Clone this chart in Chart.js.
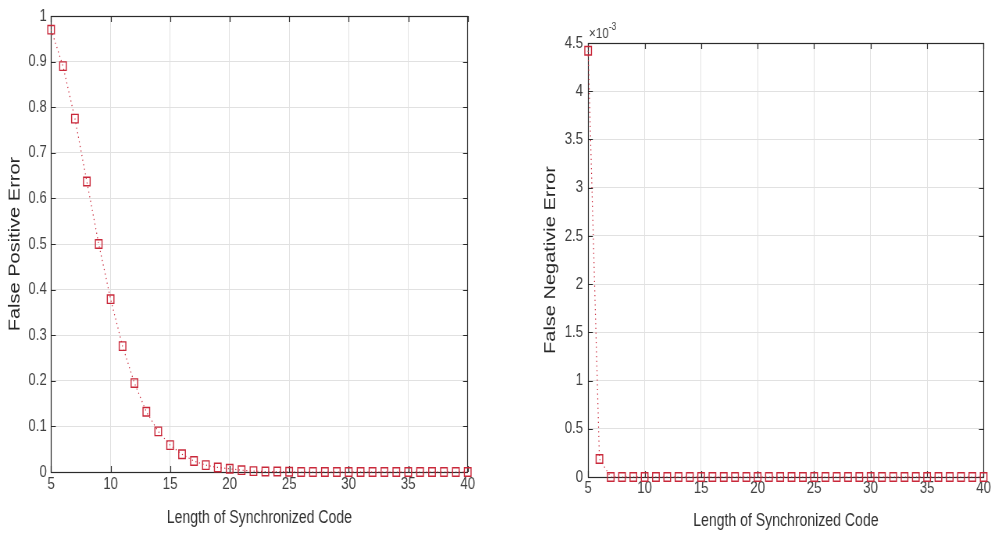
<!DOCTYPE html>
<html>
<head>
<meta charset="utf-8">
<title>False Positive / False Negative Error</title>
<script src="https://cdn.jsdelivr.net/npm/chart.js"></script>
<style>
  html, body { margin: 0; padding: 0; background: #fff; overflow: hidden; }
  /* the reference figure is squeezed horizontally, so each panel is drawn wider and scaled down */
  .panel { position: absolute; top: 0; height: 533px; transform: scaleX(0.78); transform-origin: 0 0; }
  #left { left: 0; width: 634.6px; }
  #right { left: 495px; width: 635.9px; }
</style>
</head>
<body>
<div class="panel" id="left"><canvas id="fpChart"></canvas></div>
<div class="panel" id="right"><canvas id="fnChart"></canvas></div>

<script>
// Length of synchronized code (x values, shared by both plots)
const codeLength = [5, 6, 7, 8, 9, 10, 11, 12, 13, 14, 15, 16, 17, 18, 19, 20, 21, 22,
                    23, 24, 25, 26, 27, 28, 29, 30, 31, 32, 33, 34, 35, 36, 37, 38, 39, 40];

// False positive error (left plot)
const fpError = [0.97, 0.89, 0.775, 0.637, 0.50, 0.379, 0.276, 0.195, 0.132, 0.089,
                 0.059, 0.039, 0.024, 0.015, 0.010, 0.007, 0.004, 0.002, 0.001, 0.001,
                 0.0005, 0, 0, 0, 0, 0, 0, 0, 0, 0, 0, 0, 0, 0, 0, 0];

// False negative error (right plot)
const fnError = [0.00442, 0.000186, 0, 0, 0, 0, 0, 0, 0, 0, 0, 0, 0, 0, 0, 0, 0, 0,
                 0, 0, 0, 0, 0, 0, 0, 0, 0, 0, 0, 0, 0, 0, 0, 0, 0, 0];

// Tick settings
const xTicks = { min: 5, max: 40, step: 5 };
const fpTicks = { min: 0, max: 1, step: 0.1 };
const fnTicks = { min: 0, max: 0.0045, step: 0.0005 };

const sans = "'Liberation Sans', Arial, Helvetica, sans-serif";
const markerRed = '#c9283a';
const gridGray = '#e1e1e1';
const axisDark = '#2b2b2b';

// MATLAB-style box with inward tick marks
const boxPlugin = {
  id: 'matlabBox',
  beforeDatasetsDraw(chart) {
    const { ctx, chartArea: a, scales } = chart;
    const t = 6;
    ctx.save();
    ctx.strokeStyle = axisDark;
    ctx.lineWidth = 1.2;
    ctx.strokeRect(Math.round(a.left) + 0.5, Math.round(a.top) + 0.5,
                   Math.round(a.right - a.left), Math.round(a.bottom - a.top));
    ctx.beginPath();
    scales.x.ticks.forEach(tk => {
      const px = Math.round(scales.x.getPixelForValue(tk.value)) + 0.5;
      ctx.moveTo(px, a.bottom); ctx.lineTo(px, a.bottom - t);
      ctx.moveTo(px, a.top); ctx.lineTo(px, a.top + t);
    });
    scales.y.ticks.forEach(tk => {
      const py = Math.round(scales.y.getPixelForValue(tk.value)) + 0.5;
      ctx.moveTo(a.left, py); ctx.lineTo(a.left + t, py);
      ctx.moveTo(a.right, py); ctx.lineTo(a.right - t, py);
    });
    ctx.stroke();
    ctx.restore();
  }
};

// "x10^-3" exponent label above the right plot
const exponentPlugin = {
  id: 'exponentLabel',
  afterDraw(chart) {
    if (!chart.options.plugins.exponentLabel) return;
    const { ctx, chartArea: a } = chart;
    ctx.save();
    ctx.fillStyle = '#404040';
    ctx.textBaseline = 'alphabetic';
    ctx.font = '15px ' + sans;
    ctx.fillText('\u00d710', a.left + 1, a.top - 5);
    const w = ctx.measureText('\u00d710').width;
    ctx.font = '11px ' + sans;
    ctx.fillText('-3', a.left + 1 + w, a.top - 13);
    ctx.restore();
  }
};

function makeChart(id, yValues, yTicks, yTitle, cfg) {
  const points = codeLength.map((x, i) => ({ x: x, y: yValues[i] }));
  return new Chart(document.getElementById(id), {
    type: 'line',
    data: {
      datasets: [{
        data: points,
        borderColor: markerRed,
        borderWidth: 1.2,
        borderDash: [1.2, 3.5],
        pointStyle: 'rect',
        pointRadius: 6,
        pointBorderWidth: 1.4,
        pointBorderColor: markerRed,
        pointBackgroundColor: 'rgba(0,0,0,0)',
        tension: 0,
        clip: false
      }]
    },
    options: {
      responsive: true,
      maintainAspectRatio: false,
      animation: false,
      layout: { padding: cfg.padding },
      plugins: {
        legend: { display: false },
        tooltip: { enabled: false },
        exponentLabel: cfg.exponent
      },
      scales: {
        x: {
          type: 'linear',
          min: xTicks.min,
          max: xTicks.max,
          afterFit: s => { s.height = cfg.xHeight; },
          ticks: {
            stepSize: xTicks.step,
            padding: cfg.xTickPad,
            color: '#404040',
            font: { family: sans, size: 17 },
            maxRotation: 0
          },
          grid: { color: gridGray, drawTicks: false },
          border: { display: false },
          title: {
            display: true,
            text: 'Length of Synchronized Code',
            color: '#303030',
            font: { family: sans, size: 18 },
            padding: { top: 0, bottom: cfg.xTitlePad }
          }
        },
        y: {
          min: yTicks.min,
          max: yTicks.max,
          afterFit: s => { s.width = cfg.yWidth; },
          ticks: {
            stepSize: yTicks.step,
            padding: cfg.yTickPad,
            color: '#404040',
            font: { family: sans, size: 17 },
            callback: cfg.format
          },
          grid: { color: gridGray, drawTicks: false },
          border: { display: false },
          title: {
            display: true,
            text: yTitle,
            color: '#262626',
            font: { family: sans, size: 20 },
            padding: { top: cfg.yTitlePad, bottom: 0 }
          }
        }
      }
    },
    plugins: [boxPlugin, exponentPlugin]
  });
}

makeChart('fpChart', fpError, fpTicks, 'False Positive Error', {
  padding: { top: 16, right: 35.9, left: 0, bottom: 0 },
  xHeight: 61, yWidth: 65.4,
  xTickPad: 2, yTickPad: 5.5,
  xTitlePad: 4, yTitlePad: 7,
  exponent: false,
  format: v => String(Math.round(v * 10) / 10)
});

makeChart('fnChart', fnError, fnTicks, 'False Negativie Error', {
  padding: { top: 43, right: 7.7, left: 0, bottom: 0 },
  xHeight: 56, yWidth: 119.2,
  xTickPad: 1, yTickPad: 6.4,
  xTitlePad: 1, yTitlePad: 59,
  exponent: true,
  format: v => String(Math.round(v * 10000) / 10)
});
</script>
</body>
</html>
